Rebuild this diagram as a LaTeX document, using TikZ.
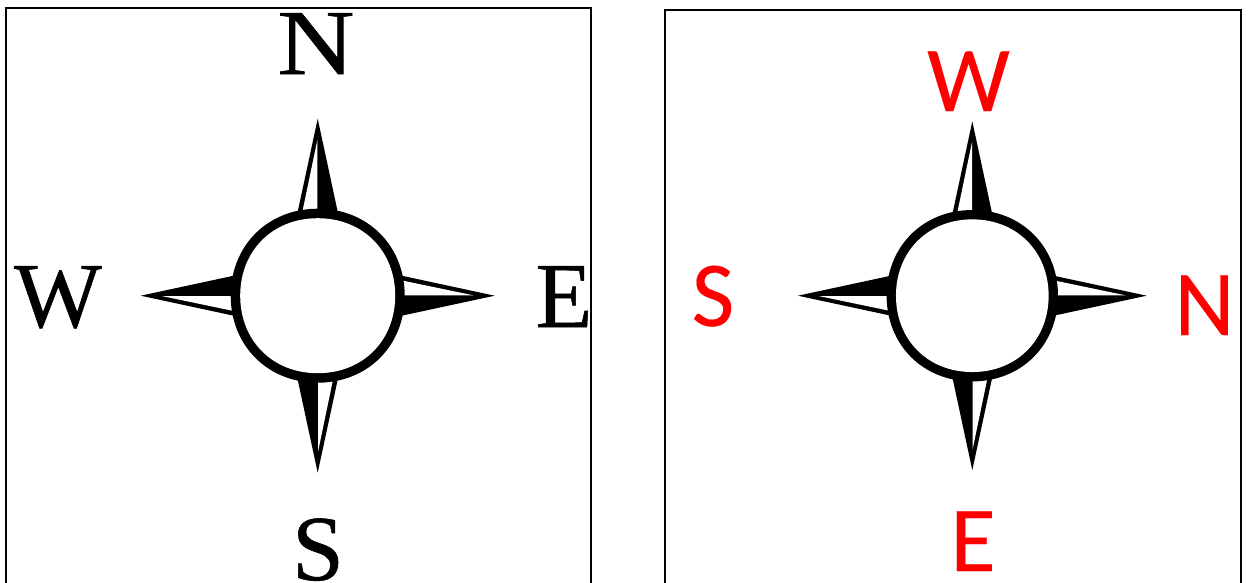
\documentclass[tikz,border=0pt]{standalone}
\usepackage{fontspec}
\newfontfamily\serifletter[FakeBold=0.6]{Liberation Serif}
\newfontfamily\sansletter[FakeBold=0.2]{Carlito}
\tikzset{
	frameline/.style={line width=2pt, line join=miter},
	oldletter/.style={font=\serifletter\fontsize{93}{93}\selectfont, black, anchor=base, inner sep=0pt},
	newletter/.style={font=\sansletter\fontsize{93}{93}\selectfont, red, anchor=base, inner sep=0pt},
	pics/compass/.style={code={
		% spikes: solid triangle, then the hollow half in white
		\foreach \a in {0, 90, 180, 270} {
			\fill [black, rotate=\a] (0, -177) -- (20, -84) -- (-20, -84) -- cycle;
			\fill [white, rotate=\a] (-0.3, -156) -- (-0.3, -84) -- (-15.3, -84) -- cycle;
		}
		% ring, a little squarer than a circle on the inside
		\fill [black] (0, -87) .. controls (50, -87) and (87, -50) .. (87, 0)
			.. controls (87, 50) and (50, 87) .. (0, 87)
			.. controls (-50, 87) and (-87, 50) .. (-87, 0)
			.. controls (-87, -50) and (-50, -87) .. (0, -87) -- cycle;
		\fill [white] (0, -77.5) .. controls (45, -77.5) and (77.5, -45) .. (77.5, 0)
			.. controls (77.5, 45) and (45, 77.5) .. (0, 77.5)
			.. controls (-45, 77.5) and (-77.5, 45) .. (-77.5, 0)
			.. controls (-77.5, -45) and (-45, -77.5) .. (0, -77.5) -- cycle;
	}}
}

\begin{document}
\begin{tikzpicture}[x=1pt, y=-1pt]
	\useasboundingbox (0, 0) rectangle (1250, 582);
	\clip (0, 0) rectangle (1250, 582);
	% left panel
	\draw [frameline] (6, 590) -- (6, 8) -- (591, 8) -- (591, 590);
	\pic at (317.7, 295.7) {compass};
	\node [oldletter, xscale=1.15, transform shape] (oldN) at (316, 74) {N};
	\node [oldletter] (oldW) at (58, 327) {W};
	\node [oldletter] (oldE) at (564, 327) {E};
	\node [oldletter] (oldS) at (318, 580) {S};
	% right panel
	\draw [frameline] (665, 590) -- (665, 10) -- (1241, 10) -- (1241, 590);
	\pic [scale=0.985] at (972.3, 295.7) {compass};
	\node [newletter] (newW) at (968.5, 111) {W};
	\node [newletter] (newS) at (713, 326) {S};
	\node [newletter] (newN) at (1204.5, 335) {N};
	\node [newletter] (newE) at (973, 571) {E};
\end{tikzpicture}
\end{document}
